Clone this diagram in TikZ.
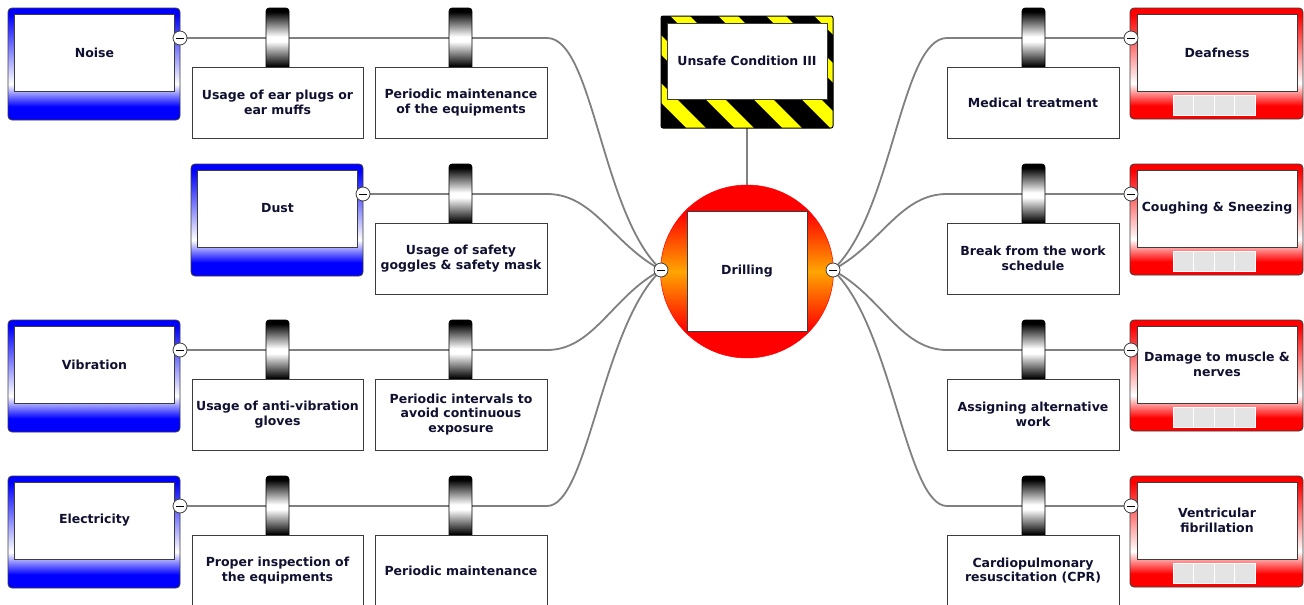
\documentclass[tikz,border=0pt]{standalone}
\usepackage{fontspec}
\setmainfont{DejaVu Sans}
\usetikzlibrary{calc,backgrounds}

\definecolor{txt}{RGB}{16,16,48}
\definecolor{wiregray}{RGB}{128,128,128}
\definecolor{edgegray}{RGB}{60,60,60}
\definecolor{threatblue}{RGB}{0,0,255}
\definecolor{consred}{RGB}{255,0,0}
\definecolor{eventorange}{RGB}{255,165,0}
\definecolor{warnyellow}{RGB}{255,255,0}
\definecolor{cellgray}{RGB}{228,228,228}

% vertical shadings: the band 25bp..75bp covers the shaded shape
\pgfdeclareverticalshading{threatshade}{100bp}{color(0bp)=(threatblue); color(31bp)=(threatblue); color(41bp)=(white); color(72bp)=(threatblue); color(100bp)=(threatblue)}
\pgfdeclareverticalshading{consshade}{100bp}{color(0bp)=(consred); color(31bp)=(consred); color(41bp)=(white); color(72bp)=(consred); color(100bp)=(consred)}
\pgfdeclareverticalshading{eventshade}{100bp}{color(0bp)=(consred); color(33bp)=(consred); color(50bp)=(eventorange); color(67bp)=(consred); color(100bp)=(consred)}
\pgfdeclareverticalshading{tabshade}{100bp}{color(0bp)=(black); color(28bp)=(black); color(48bp)=(white); color(52bp)=(white); color(72bp)=(black); color(100bp)=(black)}

\tikzset{
  every node/.style={inner sep=0pt, outer sep=0pt},
  labeltext/.style={text=txt, font=\bfseries\fontsize{12.5}{14.5}\selectfont, align=center},
  threatframe/.style={shade, shading=threatshade, draw=edgegray, line width=0.8pt,
    rounded corners=4pt, minimum width=172pt, minimum height=112pt},
  consframe/.style={shade, shading=consshade, draw=edgegray, line width=0.8pt,
    rounded corners=4pt, minimum width=173pt, minimum height=111pt,
    path picture={\foreach \i in {0,...,3}
      \draw[sharp corners, white, fill=cellgray, line width=0.8pt]
        ([xshift=43pt+\i*20.5pt, yshift=-87pt]path picture bounding box.north west)
        rectangle ++(20.5,20);}},
  hazardframe/.style={fill=warnyellow, draw=black, line width=1pt, rounded corners=2pt,
    minimum width=172pt, minimum height=112pt,
    path picture={\foreach \k in {-4,...,4}
      \fill[sharp corners, black] ([xshift=\k*48pt+29pt]path picture bounding box.north west)
        -- ++(28,0) -- ++(130,130) -- ++(-28,0) -- cycle;}},
  eventdisc/.style={circle, shade, shading=eventshade, draw=consred, line width=0.5pt,
    minimum size=173pt},
  innerbox/.style={labeltext, fill=white, draw=edgegray, line width=1pt,
    minimum width=160pt, minimum height=77pt},
  barrierbox/.style={labeltext, fill=white, draw=edgegray, line width=1pt,
    minimum width=171pt, minimum height=71pt},
  barriertab/.style={shade, shading=tabshade, draw=black, line width=0.6pt,
    rounded corners=3pt, minimum width=23pt, minimum height=62pt},
  collapser/.style={circle, draw=edgegray, fill=white, line width=0.8pt, minimum size=14pt,
    path picture={\draw[black, line width=1pt]
      ([xshift=-4pt]path picture bounding box.center) --
      ([xshift=4pt]path picture bounding box.center);}},
  connector/.style={draw=wiregray, line width=1.8pt},
}

\begin{document}
\begin{tikzpicture}[x=1pt, y=-1pt]
\useasboundingbox (0,0) rectangle (1304,605);

% ---------- hazard and top event ----------
\node[hazardframe] (hazf) at (747,72) {};
\node[innerbox, minimum height=76pt] (hazard) at (747,61) {Unsafe Condition III};

\node[eventdisc] (eventring) at (747,271.5) {};
\node[innerbox, minimum width=120pt, minimum height=120pt] (drilling) at (747,271) {Drilling};
\node[collapser] (evl) at (661,270) {};
\node[collapser] (evr) at (833,270) {};

% ---------- threats (left) ----------
\node[threatframe] (noisef) at (94,64) {};
\node[innerbox] (noise) at (94.5,52.5) {Noise};
\node[collapser] (noisem) at (180,38) {};

\node[threatframe] (dustf) at (277,220) {};
\node[innerbox] (dust) at (277.5,208.5) {Dust};
\node[collapser] (dustm) at (363,194) {};

\node[threatframe] (vibf) at (94,376) {};
\node[innerbox] (vib) at (94.5,364.5) {Vibration};
\node[collapser] (vibm) at (180,350) {};

\node[threatframe] (elecf) at (94,532) {};
\node[innerbox] (elec) at (94.5,520.5) {Electricity};
\node[collapser] (elecm) at (180,506) {};

% ---------- preventive barriers ----------
\node[barriertab] (b11t) at (277.5,39) {};
\node[barrierbox] (b11) at (277.5,102.5) {Usage of ear plugs or\\ear muffs};
\node[barriertab] (b12t) at (460.5,39) {};
\node[barrierbox, minimum width=172pt] (b12) at (461,102.5) {Periodic maintenance\\of the equipments};

\node[barriertab] (b21t) at (460.5,195) {};
\node[barrierbox, minimum width=172pt] (b21) at (461,258.5) {Usage of safety\\goggles \& safety mask};

\node[barriertab] (b31t) at (277.5,351) {};
\node[barrierbox] (b31) at (277.5,414.5) {Usage of anti-vibration\\gloves};
\node[barriertab] (b32t) at (460.5,351) {};
\node[barrierbox, minimum width=172pt] (b32) at (461,414.5) {Periodic intervals to\\avoid continuous\\exposure};

\node[barriertab] (b41t) at (277.5,507) {};
\node[barrierbox] (b41) at (277.5,570.5) {Proper inspection of\\the equipments};
\node[barriertab] (b42t) at (460.5,507) {};
\node[barrierbox, minimum width=172pt] (b42) at (461,570.5) {Periodic maintenance};

% ---------- consequences (right) ----------
\node[consframe] (deaff) at (1216.5,63.5) {};
\node[innerbox] (deaf) at (1217,52.5) {Deafness};
\node[collapser] (deafm) at (1131,38) {};

\node[consframe] (coughf) at (1216.5,219.5) {};
\node[innerbox] (cough) at (1217,208.5) {Coughing \& Sneezing};
\node[collapser] (coughm) at (1131,194) {};

\node[consframe] (damf) at (1216.5,375.5) {};
\node[innerbox] (dam) at (1217,364.5) {Damage to muscle \&\\nerves};
\node[collapser] (damm) at (1131,350) {};

\node[consframe] (ventf) at (1216.5,531.5) {};
\node[innerbox] (vent) at (1217,520.5) {Ventricular\\fibrillation};
\node[collapser] (ventm) at (1131,506) {};

% ---------- mitigating barriers ----------
\node[barriertab] (r1t) at (1033.5,39) {};
\node[barrierbox, minimum width=172pt] (r1) at (1033,102.5) {Medical treatment};
\node[barriertab] (r2t) at (1033.5,195) {};
\node[barrierbox, minimum width=172pt] (r2) at (1033,258.5) {Break from the work\\schedule};
\node[barriertab] (r3t) at (1033.5,351) {};
\node[barrierbox, minimum width=172pt] (r3) at (1033,414.5) {Assigning alternative\\work};
\node[barriertab] (r4t) at (1033.5,507) {};
\node[barrierbox, minimum width=172pt] (r4) at (1033,570.5) {Cardiopulmonary\\resuscitation (CPR)};

% bends where the straight runs meet the curves
\coordinate (jnoise) at (547,38);
\coordinate (jdust)  at (547,194);
\coordinate (jvib)   at (547,350);
\coordinate (jelec)  at (547,506);
\coordinate (jdeaf)  at (947,38);
\coordinate (jcough) at (947,194);
\coordinate (jdam)   at (947,350);
\coordinate (jvent)  at (947,506);

% ---------- connectors, under the boxes ----------
\begin{pgfonlayer}{background}
\fill[white] (0,0) rectangle (1304,605);
\draw[connector] (hazf) -- (eventring);

\draw[connector] (noisem) -- (jnoise) .. controls +(45,0) and +(-60,-65) .. (evl);
\draw[connector] (dustm)  -- (jdust)  .. controls +(45,0) and +(-50,-30) .. (evl);
\draw[connector] (vibm)   -- (jvib)   .. controls +(45,0) and +(-50,30) .. (evl);
\draw[connector] (elecm)  -- (jelec)  .. controls +(40,0) and +(-60,66) .. (evl);

\draw[connector] (evr) .. controls +(60,-65) and +(-45,0) .. (jdeaf)  -- (deafm);
\draw[connector] (evr) .. controls +(50,-30) and +(-45,0) .. (jcough) -- (coughm);
\draw[connector] (evr) .. controls +(50,30)  and +(-45,0) .. (jdam)   -- (damm);
\draw[connector] (evr) .. controls +(60,66)  and +(-40,0) .. (jvent)  -- (ventm);
\end{pgfonlayer}
\end{tikzpicture}
\end{document}
